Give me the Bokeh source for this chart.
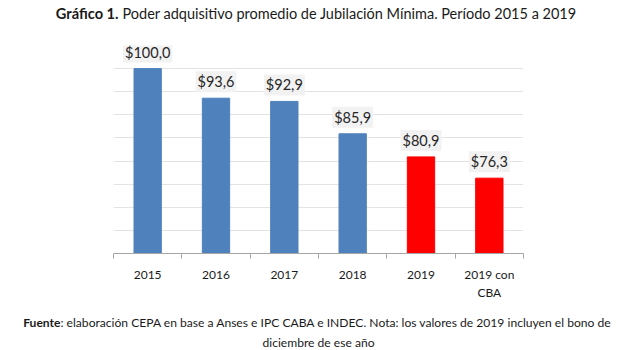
from bokeh.plotting import figure
from bokeh.models import ColumnDataSource, FixedTicker
from bokeh.layouts import column
from bokeh.core.properties import value
from bokeh.embed import file_html
from bokeh.resources import INLINE

categories = ["2015", "2016", "2017", "2018", "2019", "2019 con\nCBA"]
values = [100.0, 93.6, 92.9, 85.9, 80.9, 76.3]
colors = ["#4f81bd", "#4f81bd", "#4f81bd", "#4f81bd", "#ff0000", "#ff0000"]
value_labels = ["$" + f"{v:.1f}".replace(".", ",") for v in values]

title_bold = "Gráfico 1."
title_rest = "Poder adquisitivo promedio de Jubilación Mínima. Período 2015 a 2019"
foot_bold = "Fuente"
foot_line1 = ": elaboración CEPA en base a Anses e IPC CABA e INDEC. Nota: los valores de 2019 incluyen el bono de"
foot_line2 = "diciembre de ese año"

FONT = "Lato"
TXT = "#1a1a1a"
W = 621


def blank(h):
    f = figure(width=W, height=h, output_backend="svg", toolbar_location=None,
               x_range=(0, W), y_range=(0, h), x_axis_location=None, y_axis_location=None,
               min_border=0, frame_align=False)
    f.outline_line_color = None
    f.grid.visible = False
    return f


def txt(f, x, y, s, size, bold=False, align="left"):
    f.text(x=[x], y=[y], text=[s], text_font=value(FONT), text_font_size=size,
           text_font_style="bold" if bold else "normal", text_align=align,
           text_baseline="middle", text_color=TXT)


# ---- title
top = blank(30)
txt(top, 118, 17, title_bold, "14.6px", bold=True, align="right")
txt(top, 122, 17, title_rest, "14.5px")

# ---- main chart
xs = [i + 0.5 for i in range(len(categories))]
src = ColumnDataSource(dict(x=xs, top=values, color=colors, lab=value_labels))

p = figure(width=W, height=275, output_backend="svg", toolbar_location=None,
           x_range=(0, len(categories)), y_range=(60, 105), frame_align=False,
           min_border_left=113, min_border_right=98, min_border_top=15, min_border_bottom=52)
p.outline_line_color = None

p.vbar(x="x", top="top", bottom=60, width=0.4, color="color", source=src)

p.yaxis.visible = False
p.ygrid.ticker = FixedTicker(ticks=list(range(60, 106, 5)))
p.ygrid.grid_line_color = "#e3e3e3"
p.xgrid.grid_line_color = None

ax = p.xaxis[0]
ax.ticker = FixedTicker(ticks=xs, minor_ticks=list(range(0, len(categories) + 1)))
ax.major_label_overrides = {x: c for x, c in zip(xs, categories)}
ax.major_tick_line_color = None
ax.major_tick_out = 0
ax.major_tick_in = 0
ax.minor_tick_line_color = "#a6a6a6"
ax.minor_tick_in = 0
ax.minor_tick_out = 5
ax.axis_line_color = "#a6a6a6"
ax.major_label_text_font = FONT
ax.major_label_text_font_size = "12px"
ax.major_label_text_line_height = 1.2
ax.major_label_text_color = "#1a1a1a"
ax.major_label_standoff = 8

p.text(x="x", y="top", text="lab", source=src, text_align="center",
       text_baseline="bottom", y_offset=-6, text_font=value(FONT),
       text_font_size="14.5px", text_color="#262626",
       background_fill_color="#f2f2f2", padding=2)

# ---- footer
bot = blank(45)
txt(bot, 60, 28, foot_bold, "12.1px", bold=True, align="right")
txt(bot, 60, 28, foot_line1, "12.1px")
txt(bot, 318, 8, foot_line2, "12.1px", align="center")

layout = column(top, p, bot, spacing=0)
open("out.html", "w").write(file_html(layout, INLINE))
